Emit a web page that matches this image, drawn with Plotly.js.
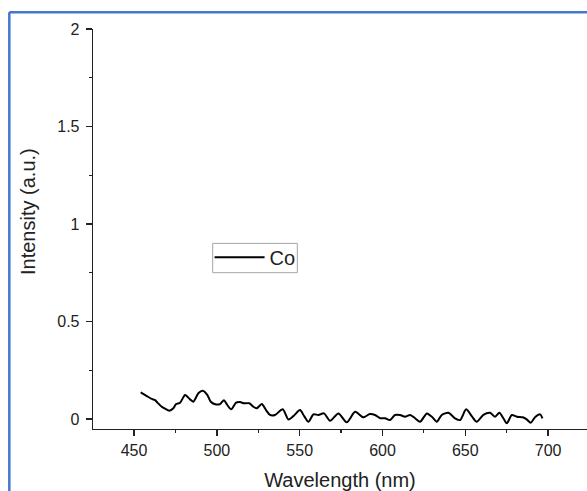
<!DOCTYPE html>
<html>
<head>
<meta charset="utf-8">
<script src="https://cdn.plot.ly/plotly-3.0.1.min.js"></script>
<style>
  html, body { margin: 0; padding: 0; background: #ffffff; }
  #chart { width: 587px; height: 491px; }
</style>
</head>
<body>
<div id="chart"></div>
<script>
// Wavelength (nm) and intensity (a.u.)
const wavelength = [
  454.0, 457.7, 460.7, 462.7, 464.1, 466.7, 468.7, 471.3, 473.7, 475.4,
  477.8, 480.8, 483.8, 485.8, 488.8, 491.5, 494.3, 496.3, 499.5, 501.9,
  504.3, 506.3, 508.6, 511.6, 514.0, 516.4, 519.6, 522.0, 524.1, 527.1,
  529.7, 532.1, 535.1, 539.8, 543.2, 546.2, 550.2, 552.7, 555.3, 558.3,
  561.3, 564.7, 568.4, 573.4, 578.4, 583.5, 588.5, 592.4, 595.5, 598.6,
  601.6, 604.6, 607.6, 610.6, 613.6, 616.7, 619.7, 622.7, 626.8, 629.8,
  632.8, 635.8, 639.8, 643.8, 646.9, 650.5, 653.9, 656.9, 660.9, 665.0,
  668.0, 670.6, 673.0, 675.1, 678.1, 681.1, 684.7, 687.1, 689.5, 692.1,
  695.2, 696.6
];
const intensity = [
  0.137, 0.118, 0.103, 0.097, 0.084, 0.063, 0.053, 0.043, 0.055, 0.077,
  0.084, 0.123, 0.101, 0.089, 0.132, 0.145, 0.123, 0.089, 0.075, 0.077,
  0.097, 0.072, 0.050, 0.084, 0.087, 0.081, 0.081, 0.063, 0.055, 0.077,
  0.046, 0.021, 0.021, 0.050, -0.002, 0.015, 0.046, 0.015, -0.014, 0.024,
  0.021, 0.029, -0.009, 0.029, -0.017, 0.037, 0.009, 0.026, 0.021, 0.004,
  0.004, -0.005, 0.021, 0.021, 0.012, 0.021, 0.004, -0.014, 0.029, 0.012,
  -0.014, 0.021, 0.032, 0.004, -0.005, 0.050, 0.015, -0.014, 0.021, 0.032,
  0.012, 0.032, 0.004, -0.022, 0.021, 0.012, 0.009, -0.002, -0.019, 0.009,
  0.024, 0.004
];
const seriesName = "Co";
const xTitle = "Wavelength (nm)";
const yTitle = "Intensity (a.u.)";

const FONT = '"Liberation Sans", Arial, sans-serif';

const trace = {
  x: wavelength,
  y: intensity,
  name: seriesName,
  type: 'scatter',
  mode: 'lines',
  line: { color: '#000000', width: 2, shape: 'spline', smoothing: 0.7 },
  showlegend: true
};

const axisCommon = {
  showline: true,
  linecolor: '#222222',
  linewidth: 1.3,
  ticks: 'outside',
  ticklen: 6,
  tickwidth: 1.3,
  tickcolor: '#222222',
  showgrid: false,
  zeroline: false,
  mirror: false,
  tickfont: { family: FONT, size: 16, color: '#222222' }
};

const layout = {
  width: 587,
  height: 491,
  margin: { l: 93, r: 0, t: 29, b: 62 },
  paper_bgcolor: '#ffffff',
  plot_bgcolor: '#ffffff',
  font: { family: FONT, color: '#222222' },
  xaxis: Object.assign({}, axisCommon, {
    range: [425.2, 723.5],
    tick0: 450,
    dtick: 50,
    minor: { ticks: 'outside', ticklen: 3, tickwidth: 1.2, tickcolor: '#222222', dtick: 25, tick0: 450 },
    title: { text: xTitle, font: { family: FONT, size: 20, color: '#222222' }, standoff: 15 }
  }),
  yaxis: Object.assign({}, axisCommon, {
    range: [-0.051, 2],
    tick0: 0,
    dtick: 0.5,
    ticklabelstandoff: 3,
    minor: { ticks: 'outside', ticklen: 3, tickwidth: 1.2, tickcolor: '#222222', dtick: 0.25, tick0: 0 },
    title: { text: '' }
  }),
  annotations: [{
    text: yTitle,
    xref: 'paper', yref: 'paper',
    x: -0.1316, y: 0.545,
    xanchor: 'center', yanchor: 'middle',
    textangle: -90,
    showarrow: false,
    font: { family: FONT, size: 20, color: '#222222' }
  }],
  legend: {
    x: 0.236, y: 0.478,
    xanchor: 'left', yanchor: 'top',
    borderwidth: 0,
    bgcolor: 'rgba(0,0,0,0)',
    itemwidth: 50,
    font: { family: FONT, size: 20, color: '#222222' }
  },
  shapes: [
    // legend frame
    { type: 'rect', xref: 'paper', yref: 'paper', x0: 0.2423, x1: 0.4136, y0: 0.3908, y1: 0.464,
      line: { color: '#a6a6a6', width: 1 }, fillcolor: 'rgba(0,0,0,0)', layer: 'above' },
    // blue frame around the figure
    { type: 'line', xref: 'paper', yref: 'paper', x0: -0.1694, x1: 1.1, y0: 1.0418, y1: 1.0418,
      line: { color: '#4577cf', width: 2.5 } },
    { type: 'line', xref: 'paper', yref: 'paper', x0: -0.1694, x1: -0.1694, y0: 1.0418, y1: -0.3,
      line: { color: '#4577cf', width: 2.5 } }
  ]
};

Plotly.newPlot('chart', [trace], layout, { displayModeBar: false, staticPlot: true });
</script>
</body>
</html>
